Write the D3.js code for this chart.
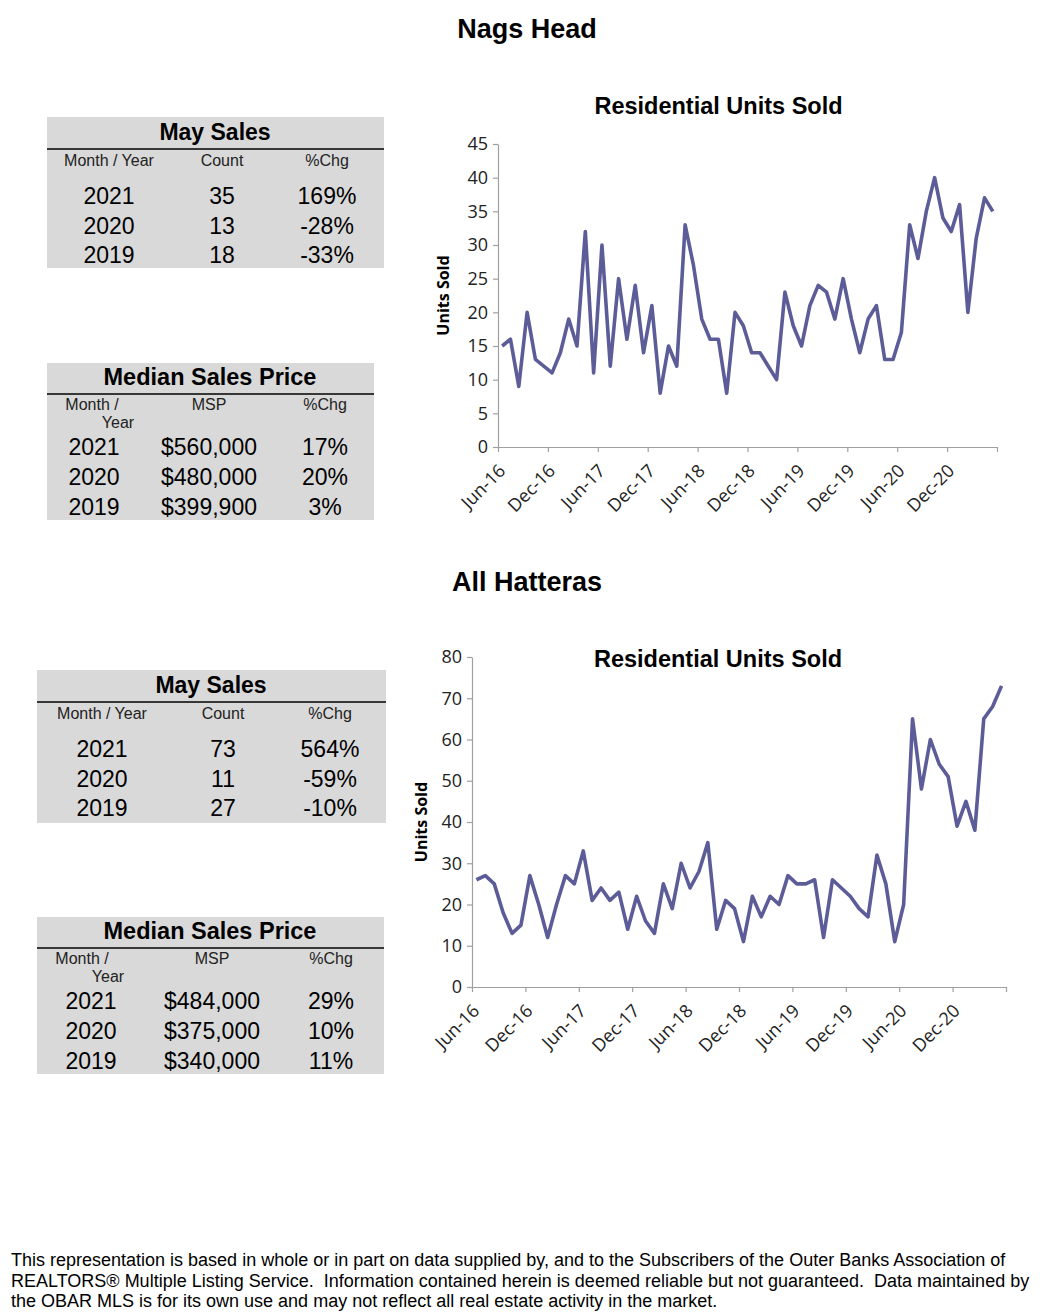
<!DOCTYPE html>
<html>
<head>
<meta charset="utf-8">
<script src="https://cdn.jsdelivr.net/npm/d3@7"></script>
<style>
  body { margin: 0; background: #fff; }
  svg text { font-family: "Liberation Sans", Arial, sans-serif; }
  .axis text { font-family: "Open Sans", sans-serif; fill: #222; }
</style>
</head>
<body>
<script>
// monthly residential units sold, Jun-16 .. May-21
const nagsUnits = [15, 16, 9, 20, 13, 12, 11, 14, 19, 15, 32, 11,
                   30, 12, 25, 16, 24, 14, 21, 8, 15, 12, 33, 27,
                   19, 16, 16, 8, 20, 18, 14, 14, 12, 10, 23, 18,
                   15, 21, 24, 23, 19, 25, 19, 14, 19, 21, 13, 13,
                   17, 33, 28, 35, 40, 34, 32, 36, 20, 31, 37, 35];
const hatterasUnits = [26, 27, 25, 18, 13, 15, 27, 20, 12, 20, 27, 25,
                       33, 21, 24, 21, 23, 14, 22, 16, 13, 25, 19, 30,
                       24, 28, 35, 14, 21, 19, 11, 22, 17, 22, 20, 27,
                       25, 25, 26, 12, 26, 24, 22, 19, 17, 32, 25, 11,
                       20, 65, 48, 60, 54, 51, 39, 45, 38, 65, 68, 73];
const monthTicks = ["Jun-16", "Dec-16", "Jun-17", "Dec-17", "Jun-18",
                    "Dec-18", "Jun-19", "Dec-19", "Jun-20", "Dec-20"];

const salesHead = ["Month / Year", "Count", "%Chg"];
const priceHead = ["MSP", "%Chg"];
const nagsSales = [["2021", "35", "169%"], ["2020", "13", "-28%"], ["2019", "18", "-33%"]];
const nagsPrice = [["2021", "$560,000", "17%"], ["2020", "$480,000", "20%"], ["2019", "$399,900", "3%"]];
const hatSales = [["2021", "73", "564%"], ["2020", "11", "-59%"], ["2019", "27", "-10%"]];
const hatPrice = [["2021", "$484,000", "29%"], ["2020", "$375,000", "10%"], ["2019", "$340,000", "11%"]];

const footerLines = [
  "This representation is based in whole or in part on data supplied by, and to the Subscribers of the Outer Banks Association of",
  "REALTORS\u00ae Multiple Listing Service.  Information contained herein is deemed reliable but not guaranteed.  Data maintained by",
  "the OBAR MLS is for its own use and may not reflect all real estate activity in the market."
];

const svg = d3.select('body').append('svg')
  .attr('width', 1048)
  .attr('height', 1316);

const lineColor = '#5c5c98';
const axisColor = '#a0a0a0';
const boxFill = '#d9d9d9';

function centerText(x, y, txt, size, bold) {
  return svg.append('text')
    .attr('x', x)
    .attr('y', y)
    .attr('dy', '0.36em')
    .attr('text-anchor', 'middle')
    .style('font-size', size + 'px')
    .style('font-weight', bold ? 'bold' : 'normal')
    .style('white-space', 'pre')
    .text(txt);
}

// section titles
centerText(527, 28, 'Nags Head', 27, true);
centerText(527, 581, 'All Hatteras', 27, true);

function salesTable(o, rows) {
  svg.append('rect')
    .attr('x', o.x).attr('y', o.y)
    .attr('width', o.w).attr('height', o.h)
    .attr('fill', boxFill);
  centerText(o.titleX, o.y + 15, 'May Sales', 23, true);
  svg.append('line')
    .attr('x1', o.x).attr('x2', o.x + o.w)
    .attr('y1', o.y + 32).attr('y2', o.y + 32)
    .attr('stroke', '#000').attr('stroke-width', 1.3);
  salesHead.forEach((h, i) => {
    centerText(o.cols[i], o.y + 43, h, 16, false).style('fill', '#222');
  });
  rows.forEach((r, j) => {
    r.forEach((c, i) => centerText(o.cols[i], o.y + 79 + j * 29.5, c, 23, false));
  });
}

function priceTable(o, rows) {
  svg.append('rect')
    .attr('x', o.x).attr('y', o.y)
    .attr('width', o.w).attr('height', o.h)
    .attr('fill', boxFill);
  centerText(o.titleX, o.y + 14, 'Median Sales Price', 23.5, true);
  svg.append('line')
    .attr('x1', o.x).attr('x2', o.x + o.w)
    .attr('y1', o.y + 31).attr('y2', o.y + 31)
    .attr('stroke', '#000').attr('stroke-width', 1.3);
  centerText(o.x + 45, o.y + 41, 'Month /', 16, false).style('fill', '#222');
  centerText(o.x + 71, o.y + 59, 'Year', 16, false).style('fill', '#222');
  priceHead.forEach((h, i) => {
    centerText(o.cols[i + 1], o.y + 41, h, 16, false).style('fill', '#222');
  });
  rows.forEach((r, j) => {
    r.forEach((c, i) => centerText(o.cols[i], o.y + 84 + j * 30, c, 23, false));
  });
}

salesTable({ x: 47, y: 117, w: 337, h: 151, titleX: 215, cols: [109, 222, 327] }, nagsSales);
priceTable({ x: 47, y: 363, w: 327, h: 157, titleX: 210, cols: [94, 209, 325] }, nagsPrice);
salesTable({ x: 37, y: 670, w: 349, h: 153, titleX: 211, cols: [102, 223, 330] }, hatSales);
priceTable({ x: 37, y: 917, w: 347, h: 157, titleX: 210, cols: [91, 212, 331] }, hatPrice);

function drawChart(o, data) {
  var x = d3.scaleLinear()
    .domain([0, data.length])
    .range([o.left, o.right]);

  var y = d3.scaleLinear()
    .domain([0, o.yMax])
    .range([o.bottom, o.top]);

  centerText((o.left + o.right) / 2 + o.titleShift, o.titleY, 'Residential Units Sold', 23.5, true);

  svg.append('text')
    .attr('transform', `translate(${o.labelX}, ${(o.top + o.bottom) / 2}) rotate(-90)`)
    .attr('text-anchor', 'middle')
    .attr('dy', '0.36em')
    .style('font-family', '"Open Sans", sans-serif')
    .style('font-size', '16px')
    .style('font-weight', 'bold')
    .text('Units Sold');

  var yAxis = d3.axisLeft(y)
    .tickValues(d3.range(0, o.yMax + 1, o.yStep))
    .tickSize(5)
    .tickSizeOuter(0)
    .tickPadding(5);

  var gy = svg.append('g')
    .attr('class', 'axis')
    .attr('transform', `translate(${o.left}, 0)`)
    .call(yAxis);

  var xAxis = d3.axisBottom(x)
    .tickValues(d3.range(0, data.length + 1, 6))
    .tickSize(5)
    .tickSizeOuter(0)
    .tickFormat((d, i) => monthTicks[i] || '');

  var gx = svg.append('g')
    .attr('class', 'axis')
    .attr('transform', `translate(0, ${o.bottom})`)
    .call(xAxis);

  gx.selectAll('text')
    .attr('y', 0)
    .attr('dy', 0)
    .attr('text-anchor', 'end')
    .attr('transform', 'translate(8, 25) rotate(-45)');

  [gx, gy].forEach(g => {
    g.selectAll('text').style('font-size', '18px');
    g.selectAll('line, path').attr('stroke', axisColor).attr('stroke-width', 1.2);
  });

  var line = d3.line()
    .x((d, i) => x(i + 0.5))
    .y(d => y(d));

  svg.append('path')
    .datum(data)
    .attr('d', line)
    .attr('fill', 'none')
    .attr('stroke', lineColor)
    .attr('stroke-width', 3.6)
    .attr('stroke-linejoin', 'round');
}

drawChart({ left: 498, right: 997, top: 144, bottom: 447, yMax: 45, yStep: 5,
            titleY: 106, titleShift: -29, labelX: 443 }, nagsUnits);
drawChart({ left: 472, right: 1006, top: 657, bottom: 987, yMax: 80, yStep: 10,
            titleY: 659, titleShift: -21, labelX: 421 }, hatterasUnits);

// disclaimer
svg.selectAll('.foot')
  .data(footerLines)
  .enter()
  .append('text')
  .attr('class', 'foot')
  .attr('x', 11)
  .attr('y', (d, i) => 1266 + i * 20.5)
  .style('font-size', '18px')
  .style('white-space', 'pre')
  .text(d => d);
</script>
</body>
</html>
